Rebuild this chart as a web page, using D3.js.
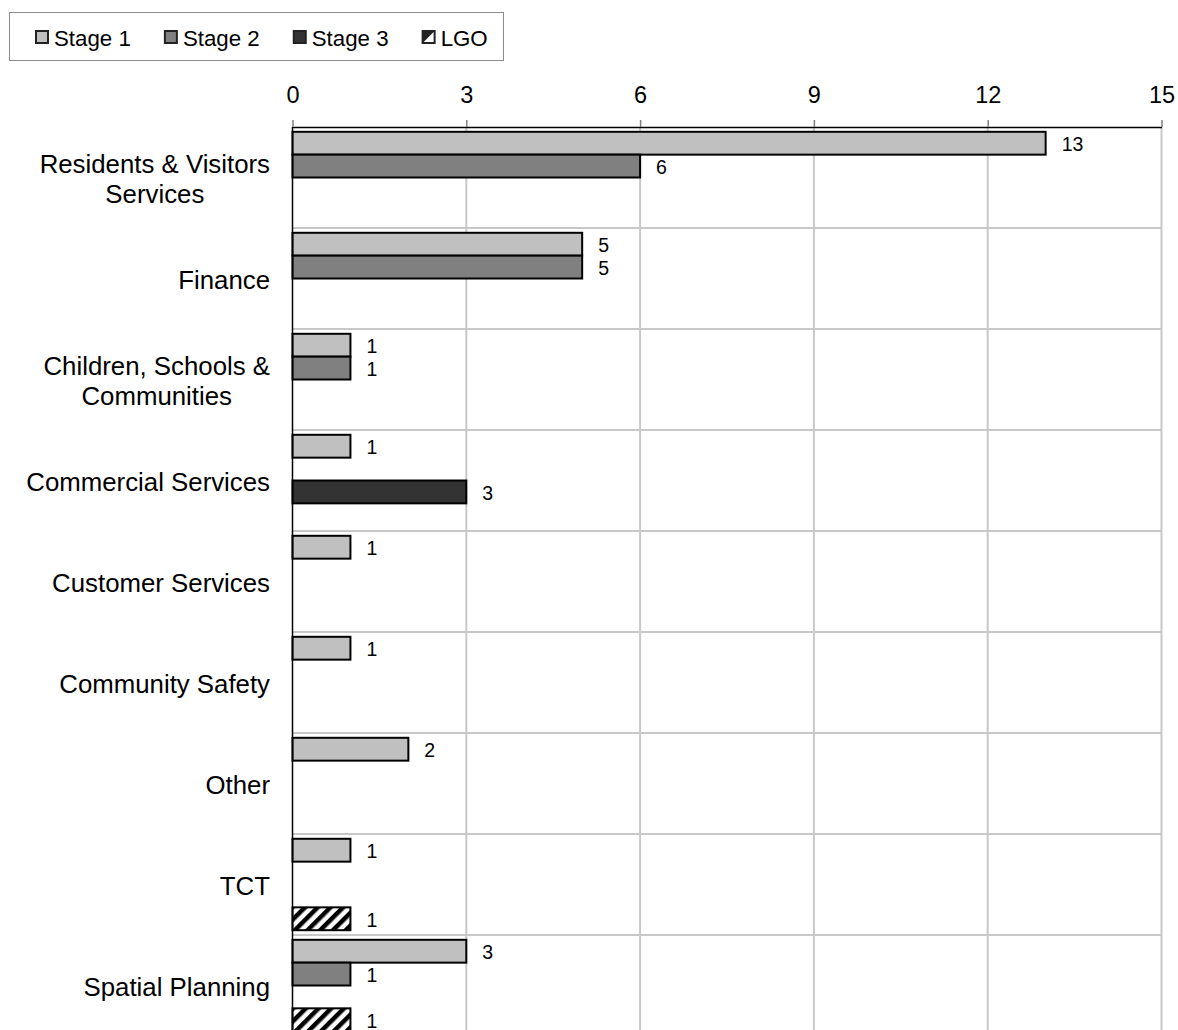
<!DOCTYPE html>
<html>
<head>
<meta charset="utf-8">
<script src="https://cdn.jsdelivr.net/npm/d3@7"></script>
<style>
  body { margin: 0; background: #fff; }
  svg { display: block; }
  text { font-family: "Liberation Sans", Arial, sans-serif; fill: #000; }
</style>
</head>
<body>
<svg id="chart" width="1178" height="1030"></svg>
<script>
// Number of items per department and stage
const categories = [
  "Residents & Visitors Services", "Finance", "Children, Schools & Communities",
  "Commercial Services", "Customer Services", "Community Safety", "Other", "TCT", "Spatial Planning"
];
const categoryLines = [
  ["Residents & Visitors", "Services"], ["Finance"], ["Children, Schools &", "Communities"],
  ["Commercial Services"], ["Customer Services"], ["Community Safety"], ["Other"], ["TCT"], ["Spatial Planning"]
];
const seriesNames = ["Stage 1", "Stage 2", "Stage 3", "LGO"];
const stage1 = [13, 5, 1, 1, 1, 1, 2, 1, 3];
const stage2 = [6, 5, 1, null, null, null, null, null, 1];
const stage3 = [null, null, null, 3, null, null, null, null, null];
const lgo = [null, null, null, null, null, null, null, 1, 1];
const xTicks = [0, 3, 6, 9, 12, 15];

const seriesValues = [stage1, stage2, stage3, lgo];
const seriesFill = ["#c0c0c0", "#808080", "#333333", "url(#hatch)"];

const svg = d3.select("#chart");

// diagonal hatch for LGO
const defs = svg.append("defs");
const pat = defs.append("pattern")
  .attr("id", "hatch")
  .attr("patternUnits", "userSpaceOnUse")
  .attr("width", 9).attr("height", 9)
  .attr("patternTransform", "rotate(45)");
pat.append("rect").attr("width", 9).attr("height", 9).attr("fill", "#fff");
pat.append("rect").attr("width", 4.5).attr("height", 9).attr("fill", "#000");

const x = d3.scaleLinear().domain([0, 15]).range([292.5, 1161.5]);
const y = d3.scaleBand().domain(categories).range([127, 1036]).padding(0);
const inner = d3.scaleBand().domain(seriesNames).range([0, y.bandwidth()]).paddingInner(0).paddingOuter(0.21);

const gridColor = "#c8c8c8";
const yTop = y.range()[0], yBottom = y.range()[1];

// vertical gridlines
svg.append("g").selectAll("line").data(xTicks.filter(t => t > 0)).join("line")
  .attr("x1", d => x(d)).attr("x2", d => x(d))
  .attr("y1", yTop).attr("y2", yBottom)
  .attr("stroke", gridColor).attr("stroke-width", 2);

// horizontal gridlines between categories
svg.append("g").selectAll("line").data(categories.slice(1).concat([null])).join("line")
  .attr("x1", x(0)).attr("x2", x(15))
  .attr("y1", d => d === null ? yBottom : y(d))
  .attr("y2", d => d === null ? yBottom : y(d))
  .attr("stroke", gridColor).attr("stroke-width", 2);

// bars
const barData = [];
seriesNames.forEach((s, si) => {
  seriesValues[si].forEach((v, ci) => {
    if (v !== null) barData.push({ series: s, si, cat: categories[ci], value: v });
  });
});

svg.append("g").selectAll("rect").data(barData).join("rect")
  .attr("x", x(0))
  .attr("y", d => y(d.cat) + inner(d.series))
  .attr("width", d => x(d.value) - x(0))
  .attr("height", inner.bandwidth())
  .attr("fill", d => seriesFill[d.si])
  .attr("stroke", "#000")
  .attr("stroke-width", 2);

// value labels
svg.append("g").selectAll("text").data(barData).join("text")
  .attr("x", d => x(d.value) + 16)
  .attr("y", d => y(d.cat) + inner(d.series) + inner.bandwidth() / 2 + 1)
  .attr("dominant-baseline", "central")
  .style("font-size", "19.5px")
  .text(d => d.value);

// top axis
const axis = svg.append("g")
  .attr("transform", `translate(0,${yTop})`)
  .call(d3.axisTop(x).tickValues(xTicks).tickSize(7).tickSizeOuter(0).tickPadding(17));
axis.select(".domain").attr("stroke", "#000").attr("stroke-width", 1.5);
axis.selectAll(".tick line").attr("stroke", "#808080").attr("stroke-width", 1.5);
axis.selectAll(".tick text")
  .style("font-size", "23.5px")
  .style("font-family", "\"Liberation Sans\", Arial, sans-serif")
  .attr("fill", "#000");

// left axis line
svg.append("line")
  .attr("x1", x(0)).attr("x2", x(0))
  .attr("y1", yTop).attr("y2", yBottom)
  .attr("stroke", "#000").attr("stroke-width", 1.5);

// category labels: centred block, right edge aligned
const labelRight = 270, lineH = 30;
categories.forEach((c, i) => {
  const lines = categoryLines[i];
  const g = svg.append("g");
  const cy = y(c) + y.bandwidth() / 2 + 1;
  const texts = lines.map((ln, k) => g.append("text")
    .attr("y", cy + (k - (lines.length - 1) / 2) * lineH)
    .attr("dominant-baseline", "central")
    .attr("text-anchor", "middle")
    .style("font-size", "25.8px")
    .text(ln));
  const maxW = d3.max(texts, t => t.node().getComputedTextLength());
  texts.forEach(t => t.attr("x", labelRight - maxW / 2));
});

// legend
const legend = svg.append("g");
legend.append("rect")
  .attr("x", 9.5).attr("y", 12.5).attr("width", 494).attr("height", 48)
  .attr("fill", "#fff").attr("stroke", "#8c8c8c").attr("stroke-width", 1);
let lx = 36;
const ly = 37;
seriesNames.forEach((s, si) => {
  const sw = 12;
  if (si === 3) {
    legend.append("rect").attr("x", lx).attr("y", ly - sw / 2).attr("width", sw).attr("height", sw)
      .attr("fill", "#fff").attr("stroke", "#222").attr("stroke-width", 2);
    legend.append("path")
      .attr("d", `M${lx},${ly - sw / 2}H${lx + sw}L${lx},${ly + sw / 2}Z`)
      .attr("fill", "#222");
  } else {
    legend.append("rect").attr("x", lx).attr("y", ly - sw / 2).attr("width", sw).attr("height", sw)
      .attr("fill", seriesFill[si]).attr("stroke", "#222").attr("stroke-width", 2);
  }
  const t = legend.append("text")
    .attr("x", lx + sw + 6).attr("y", ly + 1)
    .attr("dominant-baseline", "central")
    .style("font-size", "22.3px")
    .text(s);
  lx += sw + 6 + t.node().getComputedTextLength() + 34;
});
</script>
</body>
</html>
